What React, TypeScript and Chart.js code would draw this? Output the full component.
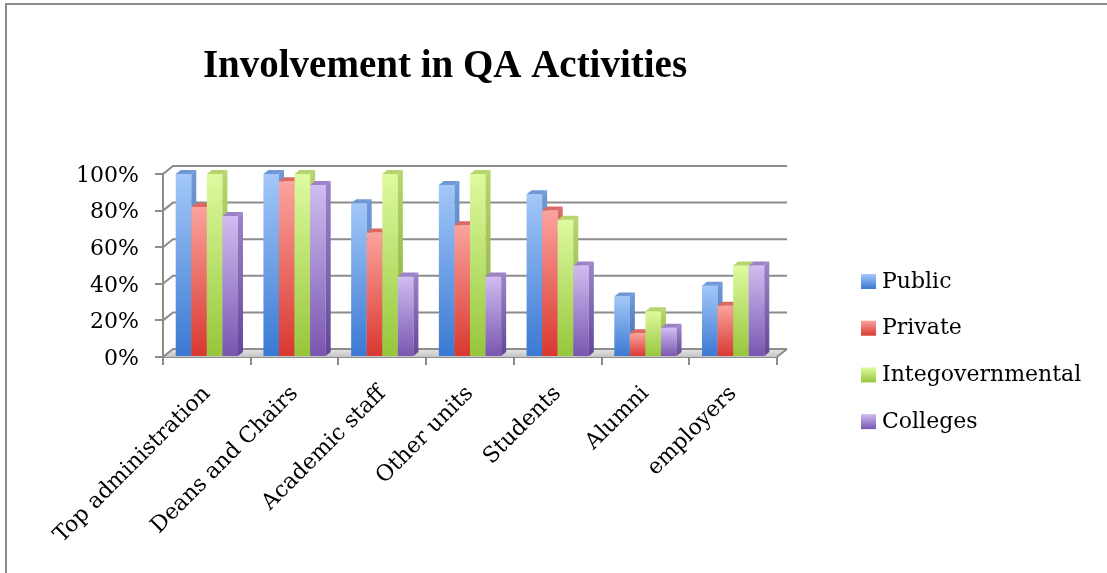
import React, { useEffect, useRef } from "react";
import { Chart, registerables } from "chart.js";

Chart.register(...registerables);

const categories = [
  "Top administration",
  "Deans and Chairs",
  "Academic staff",
  "Other units",
  "Students",
  "Alumni",
  "employers",
];
const seriesNames = ["Public", "Private", "Integovernmental", "Colleges"];
const publicVals = [100, 100, 84, 94, 89, 33, 39];
const privateVals = [82, 96, 68, 72, 80, 13, 28];
const interVals = [100, 100, 100, 100, 75, 25, 50];
const collegeVals = [77, 94, 44, 44, 50, 16, 50];
const yTicks = [0, 20, 40, 60, 80, 100];
const titleText = "Involvement in QA Activities";

// [light, dark, side, top]
const palette = [
  ["#a3c8f8", "#3a78d2", "#3c68ad", "#6f98d6"],
  ["#fba39d", "#d8372f", "#ad3630", "#dc6a63"],
  ["#defa9f", "#96c63a", "#83a93a", "#b6d56c"],
  ["#d0bdf0", "#7855b0", "#634797", "#9c82c8"],
];

const W = 1107;
const H = 573;
const AX_L = 163;
const AX_R = 777;
const AX_T = 174;
const AX_B = 357;
const DEPTH_X = 10;
const DEPTH_Y = -8;
const BAR_DX = 5;
const BAR_DY = -4;
const GRID = "#8c8c8c";

function poly(ctx: CanvasRenderingContext2D, pts: number[][], fill: any) {
  ctx.beginPath();
  ctx.moveTo(pts[0][0], pts[0][1]);
  for (let i = 1; i < pts.length; i++) ctx.lineTo(pts[i][0], pts[i][1]);
  ctx.closePath();
  ctx.fillStyle = fill;
  ctx.fill();
}

const threeD = {
  id: "threeD",
  beforeDatasetsDraw(chart: any) {
    const ctx: CanvasRenderingContext2D = chart.ctx;
    const ys = chart.scales.y;
    const ca = chart.chartArea;
    ctx.save();
    // floor
    const fg = ctx.createLinearGradient(0, ca.bottom + DEPTH_Y, 0, ca.bottom);
    fg.addColorStop(0, "#e6e6e6");
    fg.addColorStop(1, "#c4c4c4");
    poly(
      ctx,
      [
        [ca.left, ca.bottom],
        [ca.right, ca.bottom],
        [ca.right + DEPTH_X, ca.bottom + DEPTH_Y],
        [ca.left + DEPTH_X, ca.bottom + DEPTH_Y],
      ],
      fg
    );
    ctx.strokeStyle = GRID;
    ctx.lineWidth = 2;
    // back wall grid lines and side connectors
    yTicks.forEach((v) => {
      const y = ys.getPixelForValue(v);
      ctx.beginPath();
      ctx.moveTo(ca.left, y);
      ctx.lineTo(ca.left + DEPTH_X, y + DEPTH_Y);
      ctx.lineTo(ca.right + DEPTH_X, y + DEPTH_Y);
      ctx.stroke();
    });
    // floor right edge
    ctx.beginPath();
    ctx.moveTo(ca.right, ca.bottom);
    ctx.lineTo(ca.right + DEPTH_X, ca.bottom + DEPTH_Y);
    ctx.stroke();
    ctx.restore();

    // bars, left series first so neighbours hide side faces
    const n = chart.data.datasets.length;
    for (let d = 0; d < n; d++) {
      const meta = chart.getDatasetMeta(d);
      meta.controller.draw();
      const pal = palette[d];
      ctx.save();
      meta.data.forEach((el: any) => {
        const { x, y, base, width } = el.getProps(["x", "y", "base", "width"], true);
        const l = x - width / 2;
        const r = x + width / 2;
        const sg = ctx.createLinearGradient(0, y, 0, base);
        sg.addColorStop(0, pal[3]);
        sg.addColorStop(1, pal[2]);
        poly(
          ctx,
          [
            [r, y],
            [r + BAR_DX, y + BAR_DY],
            [r + BAR_DX, base + BAR_DY],
            [r, base],
          ],
          sg
        );
        poly(
          ctx,
          [
            [l, y],
            [l + BAR_DX, y + BAR_DY],
            [r + BAR_DX, y + BAR_DY],
            [r, y],
          ],
          pal[3]
        );
      });
      ctx.restore();
    }
    return false;
  },
  afterDraw(chart: any) {
    const ctx: CanvasRenderingContext2D = chart.ctx;
    ctx.save();
    // title
    ctx.fillStyle = "#000";
    ctx.font = "bold 39px 'Liberation Serif'";
    ctx.textAlign = "center";
    ctx.textBaseline = "alphabetic";
    ctx.fillText(titleText, 445, 77);
    // legend
    ctx.font = "22px 'DejaVu Serif'";
    ctx.textAlign = "left";
    ctx.textBaseline = "middle";
    chart.data.datasets.forEach((ds: any, i: number) => {
      const cy = 281 + i * 46.7;
      const g = ctx.createLinearGradient(0, cy - 7, 0, cy + 8);
      g.addColorStop(0, palette[i][0]);
      g.addColorStop(1, palette[i][1]);
      ctx.fillStyle = g;
      ctx.fillRect(861, cy - 7, 15, 15);
      ctx.fillStyle = "#000";
      ctx.fillText(ds.label, 882, cy + 1);
    });
    ctx.restore();
  },
};

function makeBg(i: number) {
  return (c: any) => {
    const chart = c.chart;
    if (!chart.chartArea || c.type !== "data" || !chart.scales.y) return palette[i][1];
    const ys = chart.scales.y;
    const top = ys.getPixelForValue(c.raw);
    const base = ys.getPixelForValue(0);
    if (!isFinite(top) || !isFinite(base) || top === base) return palette[i][1];
    const g = chart.ctx.createLinearGradient(0, top, 0, base);
    g.addColorStop(0, palette[i][0]);
    g.addColorStop(1, palette[i][1]);
    return g;
  };
}

export default function App() {
  const ref = useRef<HTMLCanvasElement>(null);
  useEffect(() => {
    if (!ref.current) return;
    const values = [publicVals, privateVals, interVals, collegeVals];
    const chart = new Chart(ref.current, {
      type: "bar",
      data: {
        labels: categories,
        datasets: values.map((v, i) => ({
          label: seriesNames[i],
          data: v,
          backgroundColor: makeBg(i),
          borderWidth: 0,
          categoryPercentage: 0.71,
          barPercentage: 1,
        })),
      },
      plugins: [threeD],
      options: {
        responsive: false,
        animation: false,
        devicePixelRatio: 1,
        layout: { padding: { left: 0, top: AX_T, right: W - AX_R, bottom: 0 } },
        plugins: {
          legend: { display: false },
          title: { display: false },
          tooltip: { enabled: false },
        },
        scales: {
          x: {
            afterFit: (s: any) => {
              s.height = H - AX_B;
            },
            grid: {
              offset: true,
              drawOnChartArea: false,
              drawTicks: true,
              tickLength: 8,
              color: GRID,
              lineWidth: 2,
            },
            border: { display: true, color: GRID, width: 2 },
            ticks: {
              minRotation: 45,
              maxRotation: 45,
              autoSkip: false,
              color: "#000",
              padding: 16,
              font: { family: "'DejaVu Serif'", size: 22 },
            },
          },
          y: {
            min: 0,
            max: 100,
            afterFit: (s: any) => {
              s.width = AX_L;
            },
            afterBuildTicks: (s: any) => {
              s.ticks = yTicks.map((v) => ({ value: v }));
            },
            grid: {
              drawOnChartArea: false,
              drawTicks: true,
              tickLength: 8,
              color: GRID,
              lineWidth: 2,
            },
            border: { display: true, color: GRID, width: 2 },
            ticks: {
              color: "#000",
              padding: 16,
              labelOffset: 2,
              font: { family: "'DejaVu Serif'", size: 22 },
              callback: (v: any) => v + "%",
            },
          },
        },
      },
    });
    return () => chart.destroy();
  }, []);
  return (
    <div style={{ position: "absolute", left: 0, top: 0, width: W, height: H, background: "#fff" }}>
      <canvas
        ref={ref}
        width={W}
        height={H}
        style={{ position: "absolute", left: 0, top: 0, width: W, height: H }}
      />
      <div
        style={{
          position: "absolute",
          left: 5,
          top: 3,
          right: 0,
          bottom: 0,
          borderLeft: "2px solid #8a8a8a",
          borderTop: "2px solid #8a8a8a",
          pointerEvents: "none",
        }}
      />
    </div>
  );
}
